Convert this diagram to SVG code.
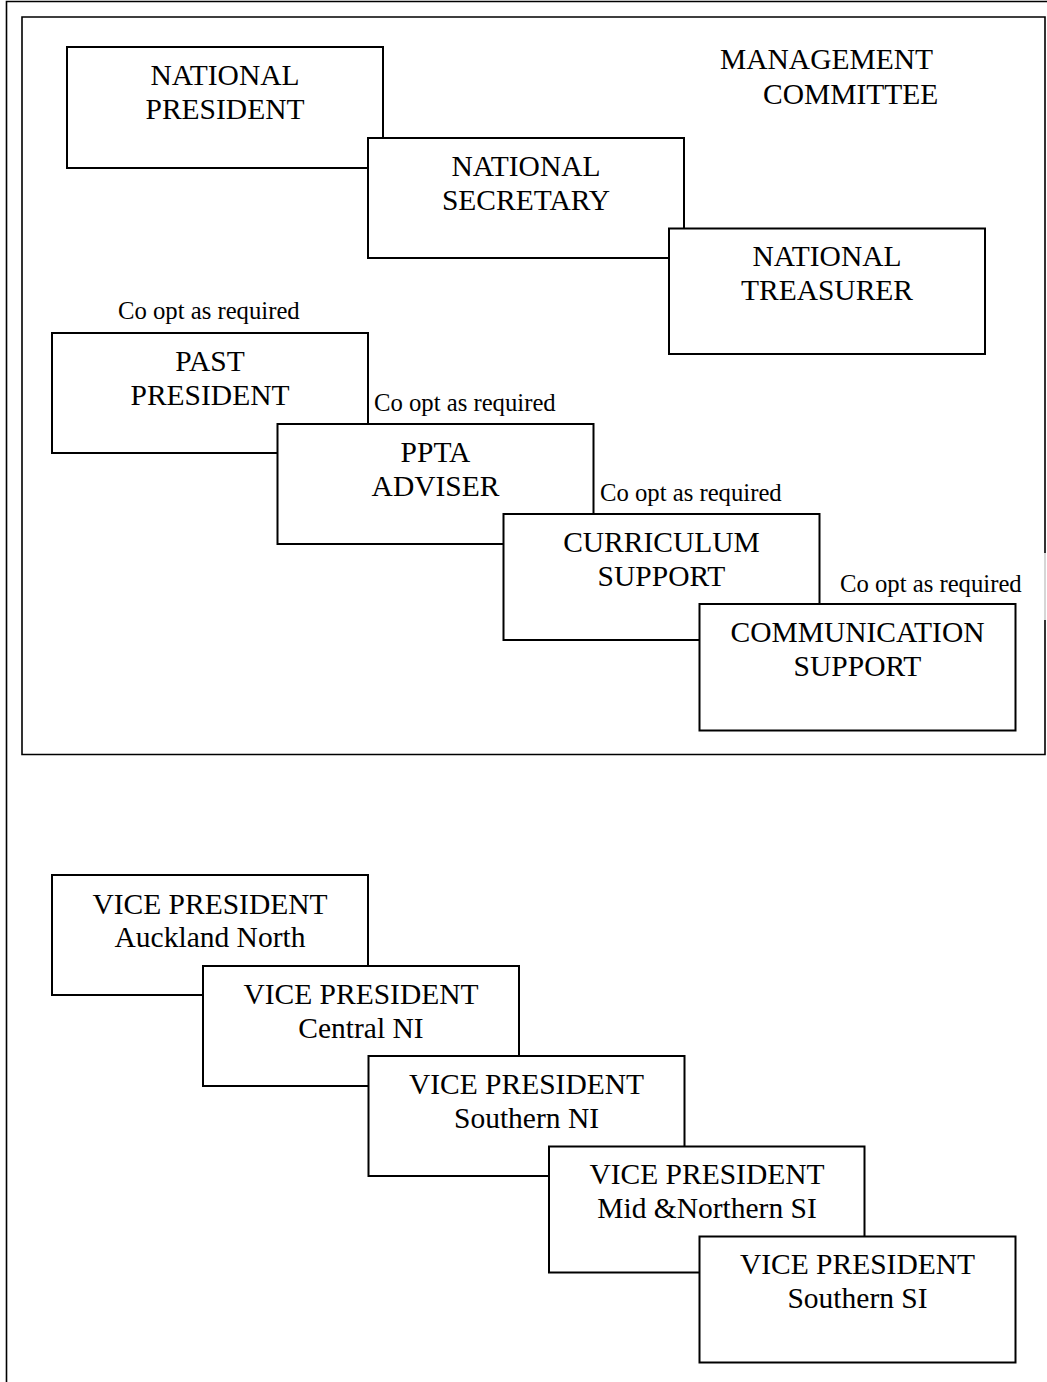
<svg xmlns="http://www.w3.org/2000/svg" width="1047" height="1382" viewBox="0 0 1047 1382">
<style>
.box{fill:#fff;stroke:#000;stroke-width:2}
.frame{fill:none;stroke:#000;stroke-width:1.6}
.t{font-family:"Liberation Serif","Times New Roman",serif;font-size:29.5px;fill:#000;text-anchor:middle}
.s{font-family:"Liberation Serif","Times New Roman",serif;font-size:24.7px;fill:#000}
.h{font-family:"Liberation Serif","Times New Roman",serif;font-size:29.5px;fill:#000}
</style>
<rect width="1047" height="1382" fill="#fff"/>
<g id="outer-frame">
<path class="frame" d="M6.5,1382 V1.5 H1047"/>
</g>
<g id="management-committee">
<path class="frame" d="M1045,553 V17 H22 V754.5 H1045 V620"/>
<line x1="1045" y1="553" x2="1045" y2="620" stroke="#bbb" stroke-width="1.2"/>
<text class="h" x="720" y="69">MANAGEMENT</text>
<text class="h" x="763" y="104">COMMITTEE</text>
</g>
<g id="connectors"></g>
<g id="national-president">
<rect class="box" x="67" y="47" width="316" height="121"/>
<text class="t" x="225" y="85">NATIONAL</text>
<text class="t" x="225" y="119">PRESIDENT</text>
</g>
<g id="national-secretary">
<rect class="box" x="368" y="138" width="316" height="120"/>
<text class="t" x="526" y="176">NATIONAL</text>
<text class="t" x="526" y="210">SECRETARY</text>
</g>
<g id="national-treasurer">
<rect class="box" x="669" y="228.5" width="316" height="125.5"/>
<text class="t" x="827" y="266">NATIONAL</text>
<text class="t" x="827" y="300">TREASURER</text>
</g>
<g id="past-president">
<text class="s" x="118" y="319">Co opt as required</text>
<rect class="box" x="52" y="333" width="316" height="120"/>
<text class="t" x="210" y="371">PAST</text>
<text class="t" x="210" y="405">PRESIDENT</text>
</g>
<g id="ppta-adviser">
<text class="s" x="374" y="411">Co opt as required</text>
<rect class="box" x="277.5" y="424" width="316" height="120"/>
<text class="t" x="435.5" y="462">PPTA</text>
<text class="t" x="435.5" y="496">ADVISER</text>
</g>
<g id="curriculum-support">
<text class="s" x="600" y="501">Co opt as required</text>
<rect class="box" x="503.5" y="514" width="316" height="126"/>
<text class="t" x="661.5" y="552">CURRICULUM</text>
<text class="t" x="661.5" y="586">SUPPORT</text>
</g>
<g id="communication-support">
<text class="s" x="840" y="592">Co opt as required</text>
<rect class="box" x="699.5" y="604" width="316" height="126.5"/>
<text class="t" x="857.5" y="642">COMMUNICATION</text>
<text class="t" x="857.5" y="676">SUPPORT</text>
</g>
<g id="vp-auckland-north">
<rect class="box" x="52" y="875" width="316" height="120"/>
<text class="t" x="210" y="914">VICE PRESIDENT</text>
<text class="t" x="210" y="947">Auckland North</text>
</g>
<g id="vp-central-ni">
<rect class="box" x="203" y="966" width="316" height="120"/>
<text class="t" x="361" y="1004">VICE PRESIDENT</text>
<text class="t" x="361" y="1038">Central NI</text>
</g>
<g id="vp-southern-ni">
<rect class="box" x="368.5" y="1056" width="316" height="120"/>
<text class="t" x="526.5" y="1094">VICE PRESIDENT</text>
<text class="t" x="526.5" y="1128">Southern NI</text>
</g>
<g id="vp-mid-northern-si">
<rect class="box" x="549" y="1146.5" width="315.5" height="126"/>
<text class="t" x="707" y="1184">VICE PRESIDENT</text>
<text class="t" x="707" y="1218">Mid &amp;Northern SI</text>
</g>
<g id="vp-southern-si">
<rect class="box" x="699.5" y="1236.5" width="316" height="126"/>
<text class="t" x="857.5" y="1274">VICE PRESIDENT</text>
<text class="t" x="857.5" y="1308">Southern SI</text>
</g>
</svg>
